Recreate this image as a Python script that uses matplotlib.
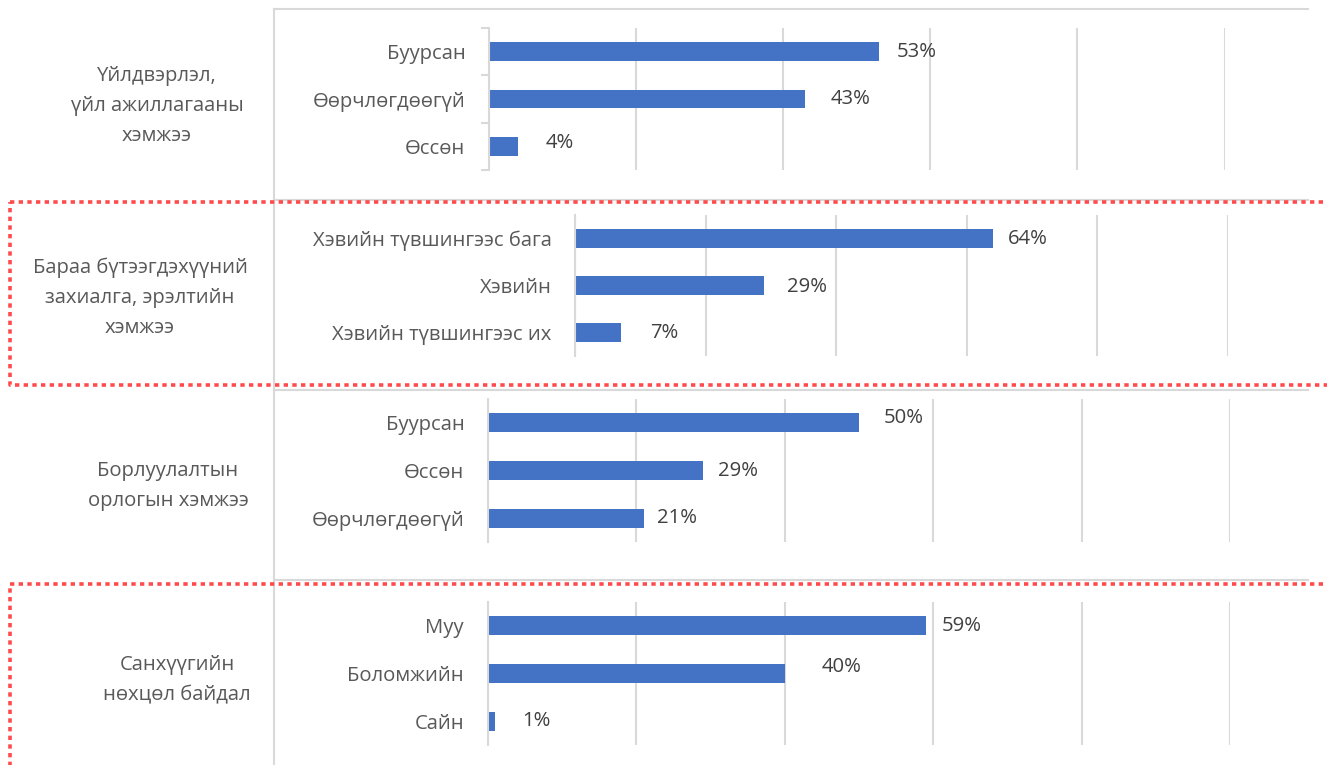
import matplotlib
matplotlib.use('Agg')
import matplotlib.pyplot as plt
from matplotlib.lines import Line2D

# ---------------- data ----------------
group_titles = [
    "Үйлдвэрлэл,\nүйл ажиллагааны\nхэмжээ",
    "Бараа бүтээгдэхүүний\nзахиалга, эрэлтийн\nхэмжээ",
    "Борлуулалтын\nорлогын хэмжээ",
    "Санхүүгийн\nнөхцөл байдал",
]
cats_1 = ["Буурсан", "Өөрчлөгдөөгүй", "Өссөн"]
vals_1 = [0.53, 0.43, 0.04]
cats_2 = ["Хэвийн түвшингээс бага", "Хэвийн", "Хэвийн түвшингээс их"]
vals_2 = [0.64, 0.29, 0.07]
cats_3 = ["Буурсан", "Өссөн", "Өөрчлөгдөөгүй"]
vals_3 = [0.50, 0.29, 0.21]
cats_4 = ["Муу", "Боломжийн", "Сайн"]
vals_4 = [0.59, 0.40, 0.01]

# label nudges (pixels), styling only
label_dx = [[18, 25, 27], [15, 23, 29], [25, 15, 13], [16, 37, 27]]
label_dy = [[0, 0, -3], [1, 1, 1], [-5, 0, 0], [0, -6, 0]]

# ---------------- layout ----------------
W, H = 1327, 765
plt.rcParams['font.family'] = ['Open Sans', 'DejaVu Sans']
fig = plt.figure(figsize=(W / 100, H / 100), dpi=100)

# background axes in pixel coordinates for borders / frames
bg = fig.add_axes([0, 0, 1, 1])
bg.set_xlim(0, W)
bg.set_ylim(H, 0)
bg.axis('off')

border = '#d9d9d9'
bg.add_line(Line2D([274, 274], [9, H], color=border, lw=1.5))
for y in [9, 200, 390, 580]:
    bg.add_line(Line2D([274, 1308], [y, y], color=border, lw=1.5))

red = '#ff4b4b'
for (x0, y0, x1, y1) in [(10, 202, 1330, 385), (10, 584, 1330, 770)]:
    bg.plot([x0, x1, x1, x0, x0], [y0, y0, y1, y1, y0], color=red, lw=2.6,
            linestyle=(0, (1.2, 1.2)), solid_capstyle='butt', dash_capstyle='butt')

# panel axes boxes: (left, right at 100%, top, bottom) in pixels
boxes = [(489, 1224.6, 28, 170), (575, 1228, 215, 356),
         (488, 1230, 399, 542), (487.5, 1230, 602, 745)]
group_pos = [(157, 106), (140, 298), (168, 486), (177, 680)]

cats_all = [cats_1, cats_2, cats_3, cats_4]
vals_all = [vals_1, vals_2, vals_3, vals_4]

bar_color = '#4472c4'
tick_color = '#595959'
lab_color = '#404040'
fs = 14.6

for p in range(4):
    l, r, t, b = boxes[p]
    ax = fig.add_axes([l / W, 1 - b / H, (r - l) / W, (b - t) / H])
    cats, vals = cats_all[p], vals_all[p]
    ypos = list(range(len(cats)))
    ax.barh(ypos, vals, height=0.4, color=bar_color, zorder=3)
    ax.set_xlim(0, 1.0)
    ax.set_ylim(len(cats) - 0.5, -0.5)
    ax.set_xticks([0, 0.2, 0.4, 0.6, 0.8, 1.0])
    ax.grid(axis='x', color=border, lw=1.5, zorder=0)
    ax.tick_params(axis='x', length=0, labelbottom=False)
    ax.set_yticks(ypos)
    ax.set_yticklabels(cats, fontsize=fs, color=tick_color)
    if p == 0:
        ax.set_yticks([-0.5, 0.5, 1.5, 2.5], minor=True)
        ax.tick_params(axis='y', which='minor', length=6, color=border, width=1.5)
        ax.tick_params(axis='y', which='major', length=0, pad=17)
    else:
        ax.tick_params(axis='y', length=0, pad=17)
    for s in ['top', 'right', 'bottom']:
        ax.spines[s].set_visible(False)
    ax.spines['left'].set_color(border)
    ax.spines['left'].set_linewidth(1.5)
    ax.spines['left'].set_zorder(4)
    ax.set_facecolor('none')
    for i, v in enumerate(vals):
        ax.annotate(f"{round(v * 100)}%", (v, i),
                    xytext=(label_dx[p][i] * 0.72, -label_dy[p][i] * 0.72),
                    textcoords='offset points', ha='left', va='center',
                    fontsize=fs, color=lab_color)
    gx, gy = group_pos[p]
    bg.text(gx, gy, group_titles[p], ha='center', va='center', fontsize=fs,
            color=tick_color, linespacing=1.65)

fig.savefig('out.png', dpi=100)
